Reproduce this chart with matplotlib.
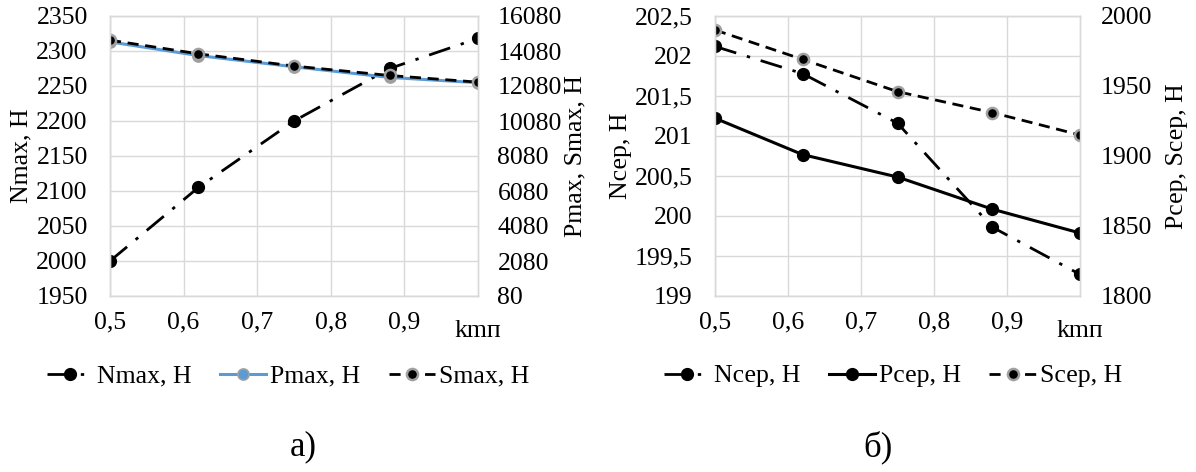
import matplotlib
matplotlib.use("Agg")
import matplotlib.pyplot as plt
from matplotlib.ticker import FuncFormatter

plt.rcParams['font.family'] = ['Liberation Serif', 'DejaVu Serif']

# ---- data ----
k = [0.5, 0.62, 0.75, 0.88, 1.0]
x_ticks = [0.5, 0.6, 0.7, 0.8, 0.9]

n_max = [2000, 2105, 2200, 2275, 2318]
p_max = [14600, 13820, 13180, 12570, 12270]
s_max = [14700, 13920, 13220, 12680, 12300]

n_cep = [202.12, 201.78, 201.16, 199.86, 199.27]
p_cep = [1927, 1901, 1885, 1862, 1845]
s_cep = [1990, 1969, 1946, 1931, 1915]

left_a_ticks = [1950, 2000, 2050, 2100, 2150, 2200, 2250, 2300, 2350]
right_a_ticks = [80, 2080, 4080, 6080, 8080, 10080, 12080, 14080, 16080]
left_b_ticks = [199, 199.5, 200, 200.5, 201, 201.5, 202, 202.5]
right_b_ticks = [1800, 1850, 1900, 1950, 2000]

labels_a = ["Nmax, Н", "Pmax, Н", "Smax, Н"]
labels_b = ["Nсер, Н", "Pсер, Н", "Sсер, Н"]
ylab_a = ("Nmax, Н", "Pmax, Smax, Н")
ylab_b = ("Nсер, Н", "Pсер, Sсер, Н")
xlab = "kmп"
captions = ["а)", "б)"]

FS = 18.5
GRID = '#D9D9D9'
BLUE = '#5B9BD5'
GREYEDGE = '#A0A0A0'
DASHDOT = (8, 4, 1.2, 4)
DASH = (4.0, 2.4)

W, H = 1196, 472
fig = plt.figure(figsize=(W / 100, H / 100), dpi=100)


def comma(v, pos=None):
    s = ('%g' % v).replace('.', ',')
    return s


def setup(ax, ax2, ylim, yticks, ylim2, yticks2, lpad, rpad):
    ax.set_xlim(0.5, 1.0)
    ax.set_xticks(x_ticks)
    ax.xaxis.set_major_formatter(FuncFormatter(comma))
    ax.set_ylim(*ylim)
    ax.set_yticks(yticks)
    ax.yaxis.set_major_formatter(FuncFormatter(comma))
    ax2.set_ylim(*ylim2)
    ax2.set_yticks(yticks2)
    ax2.yaxis.set_major_formatter(FuncFormatter(comma))
    ax.grid(True, color=GRID, linewidth=1.0)
    ax.set_axisbelow(True)
    for a in (ax, ax2):
        for sp in a.spines.values():
            sp.set_color(GRID)
            sp.set_linewidth(1.0)
        a.tick_params(length=0, labelsize=FS, colors='#000000')
    ax.tick_params(axis='y', pad=lpad)
    ax.tick_params(axis='x', pad=11)
    ax2.tick_params(axis='y', pad=rpad)
    ax.text(1.0, -0.125, xlab, transform=ax.transAxes, fontsize=FS,
            ha='center', va='center')


# ---- panel a ----
axa = fig.add_axes([110 / W, 1 - 296 / H, 368 / W, 280 / H])
axa2 = axa.twinx()
setup(axa, axa2, (1950, 2350), left_a_ticks, (80, 16080), right_a_ticks, 16, 14)

la1, = axa.plot(k, n_max, color='black', lw=2.0, dashes=DASHDOT,
                marker='o', ms=8.5, mfc='black', mec='black', label=labels_a[0])
la2, = axa2.plot(k, p_max, color=BLUE, lw=2.2, marker='o', ms=8,
                 mfc=BLUE, mec=GREYEDGE, mew=1.2, label=labels_a[1])
la3, = axa2.plot(k, s_max, color='black', lw=2.0, dashes=DASH,
                 marker='o', ms=8, mfc='black', mec=GREYEDGE, mew=1.8, label=labels_a[2])

fig.text(21 / W, 1 - 156 / H, ylab_a[0], rotation=90, fontsize=FS, ha='center', va='center')
fig.text(575 / W, 1 - 156 / H, ylab_a[1], rotation=90, fontsize=FS, ha='center', va='center')

fig.legend(handles=[la1, la2, la3], loc='center', bbox_to_anchor=(288 / W, 1 - 376 / H),
           ncol=3, frameon=False, fontsize=FS, handlelength=1.8, handletextpad=0.15,
           columnspacing=1.1, borderpad=0)

# ---- panel b ----
axb = fig.add_axes([715 / W, 1 - 296 / H, 365 / W, 280 / H])
axb2 = axb.twinx()
setup(axb, axb2, (199, 202.5), left_b_ticks, (1800, 2000), right_b_ticks, 16, 15)

lb1, = axb.plot(k, n_cep, color='black', lw=2.0, dashes=DASHDOT,
                marker='o', ms=8.5, mfc='black', mec='black', label=labels_b[0])
lb2, = axb2.plot(k, p_cep, color='black', lw=2.2, marker='o', ms=8.5,
                 mfc='black', mec='black', label=labels_b[1])
lb3, = axb2.plot(k, s_cep, color='black', lw=2.0, dashes=DASH,
                 marker='o', ms=8, mfc='black', mec=GREYEDGE, mew=1.8, label=labels_b[2])

fig.text(621 / W, 1 - 156 / H, ylab_b[0], rotation=90, fontsize=FS, ha='center', va='center')
fig.text(1177 / W, 1 - 156 / H, ylab_b[1], rotation=90, fontsize=FS, ha='center', va='center')

fig.legend(handles=[lb1, lb2, lb3], loc='center', bbox_to_anchor=(893 / W, 1 - 376 / H),
           ncol=3, frameon=False, fontsize=FS, handlelength=1.8, handletextpad=0.15,
           columnspacing=1.1, borderpad=0)

fig.text(303 / W, 1 - 447 / H, captions[0], fontsize=25, ha='center', va='center')
fig.text(878 / W, 1 - 447 / H, captions[1], fontsize=25, ha='center', va='center')

fig.savefig('out.png', dpi=100)
